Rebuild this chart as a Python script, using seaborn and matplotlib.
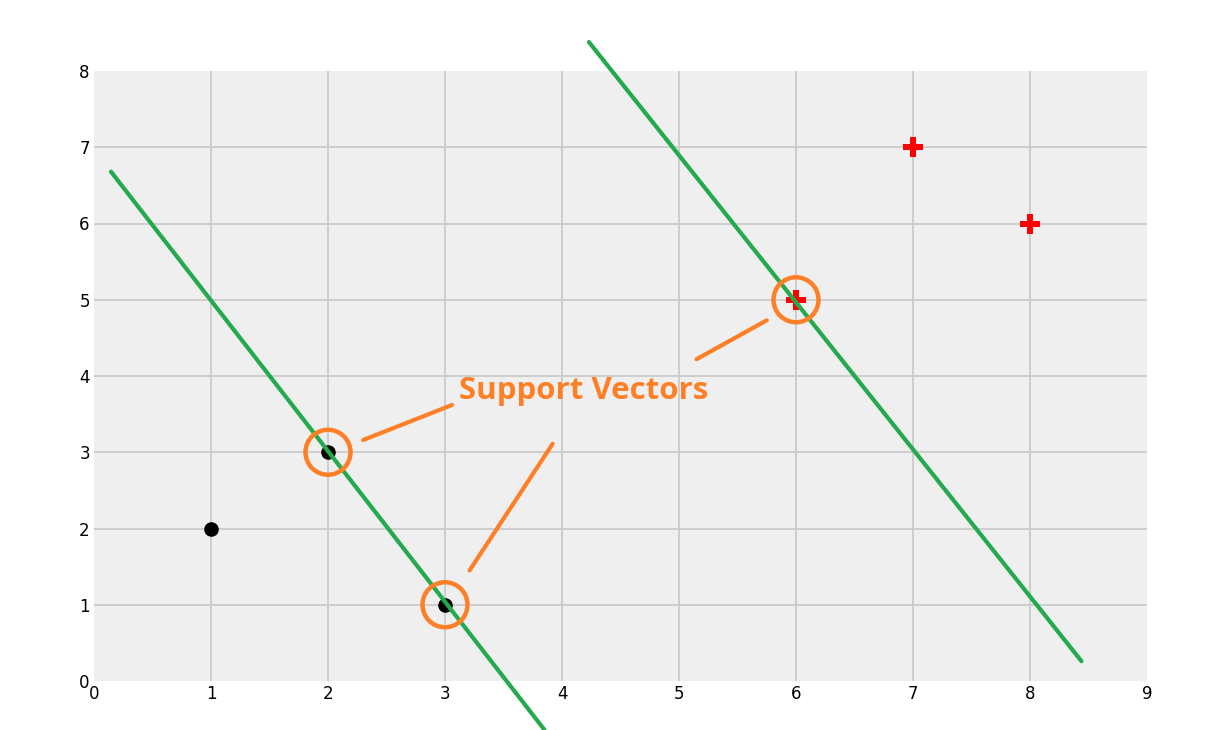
import matplotlib
matplotlib.use("Agg")
import matplotlib.pyplot as plt
import seaborn as sns
import pandas as pd

# ---- data ----
neg_x = [1, 2, 3]
neg_y = [2, 3, 1]
pos_x = [6, 7, 8]
pos_y = [5, 7, 6]
sv_x = [2, 3, 6]
sv_y = [3, 1, 5]
lower_x = [0.145, 3.85]
lower_y = [6.68, -0.64]
upper_x = [4.23, 8.44]
upper_y = [8.38, 0.26]
# pointer segments from label to support vectors
ptr_x = [[2.30, 3.06], [3.21, 3.92], [5.15, 5.75]]
ptr_y = [[3.16, 3.62], [1.45, 3.11], [4.22, 4.73]]
label_text = "Support Vectors"
label_pos = (3.12, 3.80)
xticks = list(range(0, 10))
yticks = list(range(0, 9))

sns.set_style("white")
plt.rcParams['font.family'] = ['DejaVu Sans']

fig = plt.figure(figsize=(12.05, 7.3), dpi=100)
ax = fig.add_axes([94/1205, 49/730, (1147-94)/1205, (681-71)/730])
ax.set_facecolor("#EFEFEF")
for s in ax.spines.values():
    s.set_visible(False)
ax.set_xlim(0, 9)
ax.set_ylim(0, 8)
ax.set_xticks(xticks)
ax.set_yticks(yticks)
ax.grid(True, color="#CBCBCB", linewidth=1.3)
ax.set_axisbelow(True)
ax.tick_params(axis='both', length=0, labelsize=12, pad=3, labelcolor="black")

green = "#22AA4C"
orange = "#FF7F27"

df_lo = pd.DataFrame({"x": lower_x, "y": lower_y})
df_up = pd.DataFrame({"x": upper_x, "y": upper_y})
sns.lineplot(data=df_lo, x="x", y="y", sort=False, color=green, linewidth=3, ax=ax,
             clip_on=False, zorder=4)
sns.lineplot(data=df_up, x="x", y="y", sort=False, color=green, linewidth=3, ax=ax,
             clip_on=False, zorder=4)

sns.scatterplot(x=neg_x, y=neg_y, color="black", s=110, marker="o", linewidth=0, ax=ax, zorder=3)
sns.scatterplot(x=pos_x, y=pos_y, color="red", s=190, marker="P", linewidth=0, ax=ax, zorder=3)
sns.scatterplot(x=sv_x, y=sv_y, s=1050, marker="o", facecolors="none",
                edgecolor=orange, linewidth=3.2, ax=ax, zorder=5)

for px, py in zip(ptr_x, ptr_y):
    ax.plot(px, py, color=orange, linewidth=3, solid_capstyle="round", zorder=5)

ax.text(label_pos[0], label_pos[1], label_text, color=orange, fontsize=22.5,
        fontweight="bold", family=["Open Sans", "DejaVu Sans"], va="center", ha="left", zorder=6)

ax.set_xlabel("")
ax.set_ylabel("")

fig.canvas.draw()
for axis in (ax.xaxis, ax.yaxis):
    ticks = axis.get_major_ticks()
    ticks[0].gridline.set_visible(False)
    ticks[-1].gridline.set_visible(False)

fig.savefig("out.png", dpi=100)
